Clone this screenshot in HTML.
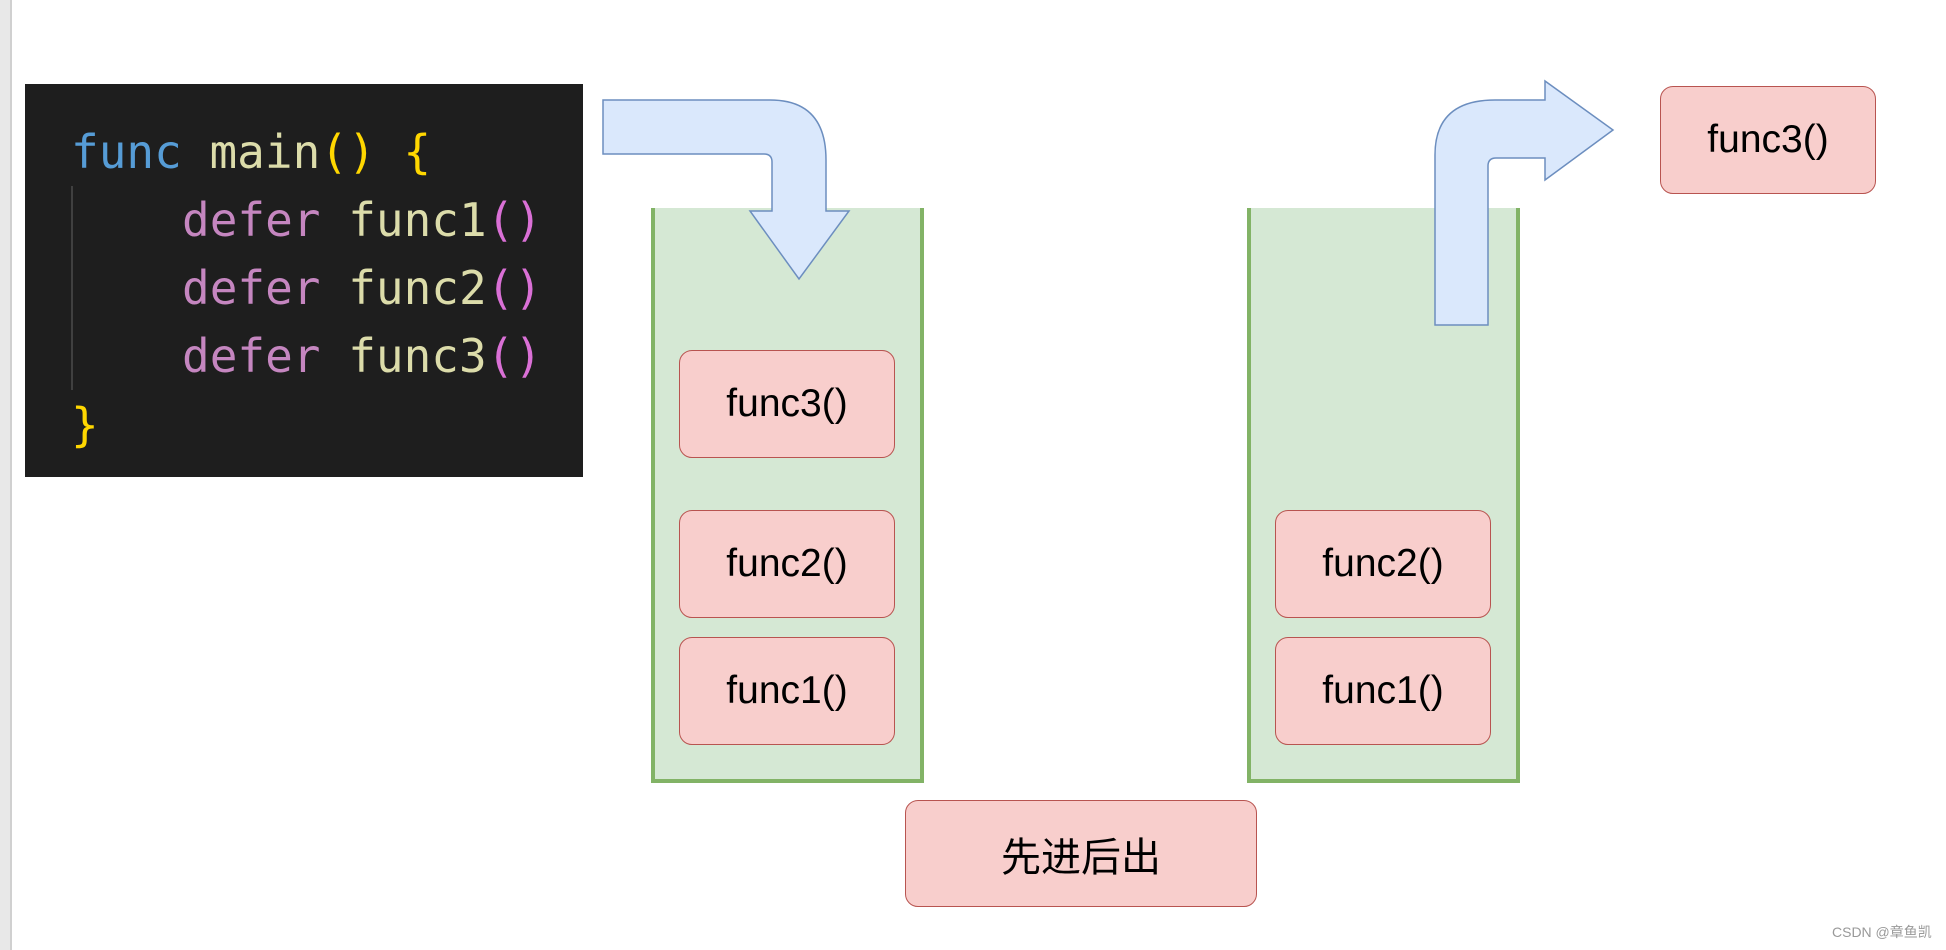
<!DOCTYPE html>
<html><head><meta charset="utf-8"><style>
body{margin:0;width:1946px;height:950px;background:#fff;position:relative;overflow:hidden;font-family:"Liberation Sans","Noto Sans CJK SC",sans-serif}
.a{position:absolute}
.code{left:25px;top:84px;width:558px;height:393px;background:#1e1e1e}
.ln{position:absolute;font-family:"DejaVu Sans Mono","Liberation Mono",monospace;font-size:46px;line-height:68px;white-space:pre;letter-spacing:0px}
.stk{background:#d5e8d4;border:4px solid #82b366;border-top:none;box-sizing:border-box}
.bx{background:#f8cecc;border:1.5px solid #b85450;border-radius:13px;box-sizing:border-box;display:flex;align-items:center;justify-content:center;font-size:39px;color:#000}
</style></head><body>
<div class="a" style="left:0;top:0;width:10px;height:950px;background:#e8e8e8;border-right:2px solid #d0d0d0"></div>
<div class="a code">
<div class="ln" style="left:46px;top:34px"><span style="color:#569cd6">func</span> <span style="color:#dcdcaa">main</span><span style="color:#ffd700">()</span> <span style="color:#ffd700">{</span></div>
<div class="ln" style="left:157px;top:102px"><span style="color:#c586c0">defer</span> <span style="color:#dcdcaa">func1</span><span style="color:#da70d6">()</span></div>
<div class="ln" style="left:157px;top:170px"><span style="color:#c586c0">defer</span> <span style="color:#dcdcaa">func2</span><span style="color:#da70d6">()</span></div>
<div class="ln" style="left:157px;top:238px"><span style="color:#c586c0">defer</span> <span style="color:#dcdcaa">func3</span><span style="color:#da70d6">()</span></div>
<div class="ln" style="left:46px;top:307px"><span style="color:#ffd700">}</span></div>
<div class="a" style="left:46px;top:102px;width:2px;height:204px;background:#404040"></div>
</div>
<div class="a stk" style="left:651px;top:208px;width:273px;height:575px"></div>
<div class="a stk" style="left:1247px;top:208px;width:273px;height:575px"></div>
<div class="a bx" style="left:679px;top:350px;width:216px;height:108px">func3()</div>
<div class="a bx" style="left:679px;top:510px;width:216px;height:108px">func2()</div>
<div class="a bx" style="left:679px;top:637px;width:216px;height:108px">func1()</div>
<div class="a bx" style="left:1275px;top:510px;width:216px;height:108px">func2()</div>
<div class="a bx" style="left:1275px;top:637px;width:216px;height:108px">func1()</div>
<div class="a bx" style="left:1660px;top:86px;width:216px;height:108px">func3()</div>
<div class="a bx" style="left:905px;top:800px;width:352px;height:107px;font-size:40px">先进后出</div>
<svg class="a" style="left:0;top:0" width="1946" height="950">
<path d="M603,100 L770,100 Q826,100 826,160 L826,211 L849,211 L799,279 L750,211 L772,211 L772,162 Q772,154 764,154 L603,154 Z" fill="#dae8fc" stroke="#6c8ebf" stroke-width="1.5"/>
<path d="M1435,325 L1435,155 Q1435,100 1495,100 L1545,100 L1545,81 L1613,130 L1545,180 L1545,158 L1496,158 Q1488,158 1488,166 L1488,325 Z" fill="#dae8fc" stroke="#6c8ebf" stroke-width="1.5"/>
</svg>
<div class="a" style="left:1832px;top:922px;font-size:14px;color:#999">CSDN @章鱼凯</div>
</body></html>
